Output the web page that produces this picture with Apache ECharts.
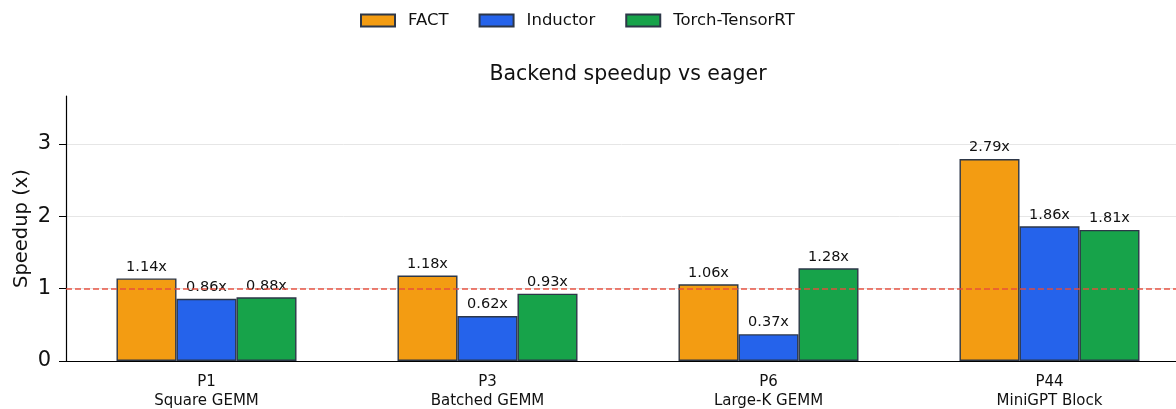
<!DOCTYPE html>
<html>
<head>
<meta charset="utf-8">
<script src="https://cdn.jsdelivr.net/npm/echarts@6/dist/echarts.min.js"></script>
<style>
  html, body { margin: 0; padding: 0; background: #fff; }
  #chart { width: 1176px; height: 409px; }
</style>
</head>
<body>
<div id="chart"></div>
<script>
const categories = ["P1\nSquare GEMM", "P3\nBatched GEMM", "P6\nLarge-K GEMM", "P44\nMiniGPT Block"];
const factValues = [1.14, 1.18, 1.06, 2.79];
const inductorValues = [0.86, 0.62, 0.37, 1.86];
const tensorrtValues = [0.88, 0.93, 1.28, 1.81];
const yTicks = [0, 1, 2, 3];
const baseline = 1;

const font = "'DejaVu Sans', sans-serif";
const edge = "#2d3748";

function barSeries(name, data, color) {
  return {
    name: name,
    type: "bar",
    data: data,
    barWidth: 60,
    barGap: "0%",
    itemStyle: { color: color, borderColor: edge, borderWidth: 1.4 },
    label: {
      show: true,
      position: "top",
      distance: 4,
      fontFamily: font,
      fontSize: 14.5,
      color: "#111",
      formatter: (p) => p.value.toFixed(2) + "x",
    },
  };
}

document.addEventListener("DOMContentLoaded", function () {
  const chart = echarts.init(document.getElementById("chart"));

  const series = [
    barSeries("FACT", factValues, "#f39c12"),
    barSeries("Inductor", inductorValues, "#2563eb"),
    barSeries("Torch-TensorRT", tensorrtValues, "#17a34a"),
  ];
  // dashed eager baseline
  series[0].markLine = {
    silent: true,
    symbol: "none",
    label: { show: false },
    lineStyle: { color: "#e74c3c", type: [6, 3], width: 1.6, opacity: 0.95 },
    data: [{ yAxis: baseline }],
    z: 10,
  };

  const option = {
    animation: false,
    title: {
      text: "Backend speedup vs eager",
      left: 623,
      textAlign: "center",
      top: 59,
      textStyle: { fontFamily: font, fontSize: 20.5, fontWeight: "normal", color: "#111" },
    },
    legend: {
      top: 7,
      left: 355,
      icon: "rect",
      itemWidth: 34,
      itemHeight: 12,
      itemGap: 30,
      textStyle: { fontFamily: font, fontSize: 16.5, color: "#111", padding: [0, 0, 0, 8] },
    },
    grid: { left: 66, top: 96, width: 1124, height: 265, outerBoundsMode: "none", containLabel: false },
    xAxis: {
      type: "category",
      data: categories,
      axisLine: { lineStyle: { color: "#000", width: 1.2 } },
      axisTick: { alignWithLabel: true, length: 6, lineStyle: { color: "#000" } },
      axisLabel: { fontFamily: font, fontSize: 15, color: "#111", lineHeight: 19, margin: 12 },
    },
    yAxis: {
      type: "value",
      min: 0,
      max: 3.66,
      interval: 1,
      name: "Speedup (x)",
      nameLocation: "middle",
      nameGap: 34,
      nameMoveOverlap: false,
      nameTextStyle: { fontFamily: font, fontSize: 19.5, color: "#111" },
      axisLine: { show: true, lineStyle: { color: "#000", width: 1.2 } },
      axisTick: { show: true, length: 7, customValues: yTicks, lineStyle: { color: "#000" } },
      axisLabel: { fontFamily: font, fontSize: 21, color: "#111", margin: 15, customValues: yTicks },
      splitLine: { lineStyle: { color: "#e6e6e6", width: 1 } },
    },
    series: series,
  };
  chart.setOption(option);
});
</script>
</body>
</html>
